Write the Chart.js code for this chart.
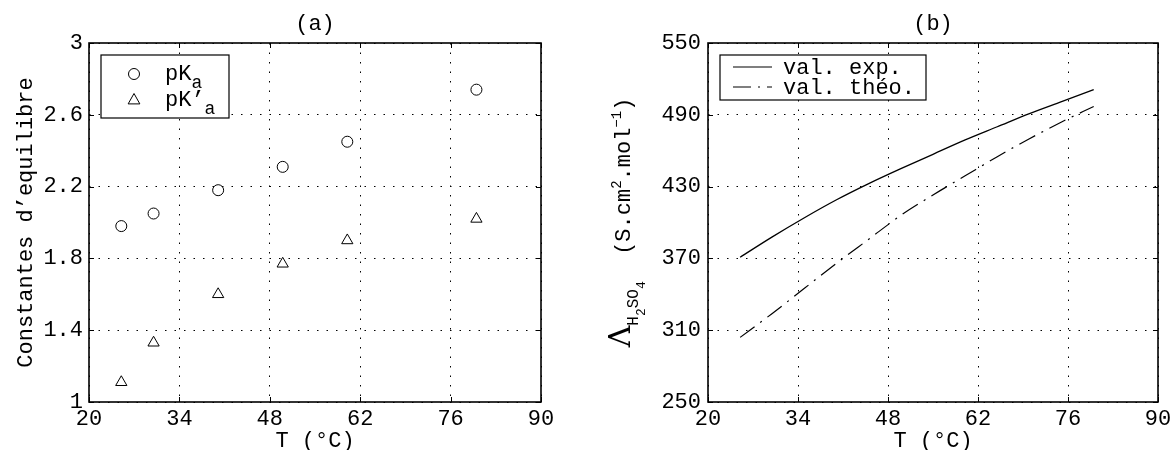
<!DOCTYPE html>
<html><head><meta charset="utf-8">
<script src="https://cdn.jsdelivr.net/npm/chart.js@4/dist/chart.umd.min.js"></script>
<style>
html,body{margin:0;padding:0;background:#fff;overflow:hidden;width:1173px;height:450px;position:relative}
#a{position:absolute;left:0;top:0;width:590px;height:450px}
#b{position:absolute;left:590px;top:0;width:600px;height:450px}
</style></head><body>
<div id="a"><canvas id="ca"></canvas></div>
<div id="b"><canvas id="cb"></canvas></div>
<script>
// ---- data ----
const temps = [25, 30, 40, 50, 60, 80];
const pKa = [1.98, 2.05, 2.18, 2.31, 2.45, 2.74];
const pKa2 = [1.11, 1.33, 1.60, 1.77, 1.90, 2.02];
const xTicks = [20, 34, 48, 62, 76, 90];
const yTicksA = [1, 1.4, 1.8, 2.2, 2.6, 3];
const yTicksB = [250, 310, 370, 430, 490, 550];
const tempsB = [25, 30, 35, 40, 45, 50, 55, 60, 65, 70, 75, 80];
const lambdaExp = [371, 388, 404, 419, 432.5, 445, 457, 469, 480, 491, 501, 511];
const lambdaTheo = [304, 324, 345, 366, 386, 406, 423, 439, 455, 470, 484, 497];

const FONT = "'Liberation Mono', 'DejaVu Sans Mono', monospace";
const FS = 22;
const DASHDOT = [18, 7, 2, 7];

function xScale(){
  return {type:'linear', min:20, max:90,
    afterBuildTicks:s=>{s.ticks = xTicks.map(v=>({value:v}));},
    afterFit:s=>{s.height = 48;},
    ticks:{color:'#000', font:{family:FONT,size:FS}, padding:4, maxRotation:0, autoSkip:false, callback:v=>String(v)},
    grid:{color:'#000', lineWidth:1, drawTicks:false},
    border:{display:false, dash:[1.5,8]}
  };
}
function yScale(min,max,ticks,w,pad){
  return {type:'linear', min:min, max:max,
    afterBuildTicks:s=>{s.ticks = ticks.map(v=>({value:v}));},
    afterFit:s=>{s.width = w;},
    ticks:{color:'#000', font:{family:FONT,size:FS}, padding:pad, autoSkip:false, callback:v=>String(v)},
    grid:{color:'#000', lineWidth:1, drawTicks:false},
    border:{display:false, dash:[1.5,8]}
  };
}

const frame = {
  id:'frame',
  afterDraw(chart){
    const {ctx, chartArea:a} = chart; const x = chart.scales.x, y = chart.scales.y;
    ctx.save();
    ctx.strokeStyle='#000'; ctx.lineWidth=1;
    ctx.beginPath();
    x.ticks.forEach(t=>{const p=Math.round(x.getPixelForValue(t.value))+0.5; ctx.moveTo(p,a.bottom); ctx.lineTo(p,a.bottom-5); ctx.moveTo(p,a.top); ctx.lineTo(p,a.top+5);});
    y.ticks.forEach(t=>{const p=Math.round(y.getPixelForValue(t.value))+0.5; ctx.moveTo(a.left,p); ctx.lineTo(a.left+5,p); ctx.moveTo(a.right,p); ctx.lineTo(a.right-5,p);});
    ctx.stroke();
    ctx.lineWidth=1.6;
    ctx.strokeRect(a.left, a.top, a.right-a.left, a.bottom-a.top);
    ctx.restore();
  }
};

function drawTitleAndX(chart, title){
  const {ctx, chartArea:a} = chart;
  ctx.save();
  ctx.fillStyle='#000';
  ctx.font = FS+'px '+FONT;
  ctx.textAlign='center'; ctx.textBaseline='middle';
  const cx=(a.left+a.right)/2;
  ctx.fillText(title, cx, 24);
  ctx.fillText('T (°C)', cx, 441);
  ctx.restore();
}

// ---------- chart (a) ----------
const decoA = {
  id:'decoA',
  afterDraw(chart){
    const {ctx, chartArea:a} = chart;
    drawTitleAndX(chart,'(a)');
    ctx.save();
    ctx.translate(26,(a.top+a.bottom)/2);
    ctx.rotate(-Math.PI/2);
    ctx.font = FS+'px '+FONT; ctx.fillStyle='#000';
    ctx.textAlign='center'; ctx.textBaseline='middle';
    ctx.fillText("Constantes d’equilibre",0,0);
    ctx.restore();
    // legend
    ctx.save();
    const bx=a.left+12, by=a.top+12, bw=128, bh=63;
    ctx.fillStyle='#fff'; ctx.fillRect(bx,by,bw,bh);
    ctx.strokeStyle='#000'; ctx.lineWidth=1.2; ctx.strokeRect(bx,by,bw,bh);
    const rows=[by+19, by+45];
    ctx.lineWidth=1;
    ctx.beginPath(); ctx.arc(bx+33, rows[0], 5.5, 0, Math.PI*2); ctx.stroke();
    const r=6.5, tx=bx+33, ty=rows[1];
    ctx.beginPath(); ctx.moveTo(tx, ty-r); ctx.lineTo(tx+r*0.9, ty+r*0.6); ctx.lineTo(tx-r*0.9, ty+r*0.6); ctx.closePath(); ctx.stroke();
    ctx.fillStyle='#000'; ctx.textAlign='left'; ctx.textBaseline='alphabetic';
    const t0=bx+64;
    ctx.font=FS+'px '+FONT;
    ctx.fillText('pK', t0, rows[0]+6);
    let w=ctx.measureText('pK').width;
    ctx.font='18px '+FONT; ctx.fillText('a', t0+w, rows[0]+14);
    ctx.font=FS+'px '+FONT;
    ctx.fillText('pK’', t0, rows[1]+6);
    w=ctx.measureText('pK’').width;
    ctx.font='18px '+FONT; ctx.fillText('a', t0+w, rows[1]+14);
    ctx.restore();
  }
};

new Chart(document.getElementById('ca'), {
  type:'scatter',
  data:{datasets:[
    {label:'pKa', data:temps.map((t,i)=>({x:t,y:pKa[i]})), pointStyle:'circle', pointRadius:5.5, pointHoverRadius:5.5, borderColor:'#000', backgroundColor:'rgba(0,0,0,0)', borderWidth:1},
    {label:"pK'a", data:temps.map((t,i)=>({x:t,y:pKa2[i]})), pointStyle:'triangle', pointRadius:6.5, pointHoverRadius:6.5, borderColor:'#000', backgroundColor:'rgba(0,0,0,0)', borderWidth:1}
  ]},
  options:{
    responsive:true, maintainAspectRatio:false, animation:false, devicePixelRatio:1,
    layout:{padding:{top:43, right:49, left:0, bottom:0}},
    plugins:{legend:{display:false}, title:{display:false}, tooltip:{enabled:false}},
    scales:{x:xScale(), y:yScale(1,3,yTicksA,89,6)}
  },
  plugins:[frame, decoA]
});

// ---------- chart (b) ----------
const decoB = {
  id:'decoB',
  afterDraw(chart){
    const {ctx, chartArea:a} = chart;
    drawTitleAndX(chart,'(b)');
    ctx.save();
    ctx.fillStyle='#000';
    ctx.translate(40, (a.top+a.bottom)/2);
    ctx.rotate(-Math.PI/2);
    ctx.textBaseline='alphabetic'; ctx.textAlign='left';
    const parts=[
      {t:'Λ', f:30, dy:0, ff:"'DejaVu Serif', serif"},
      {t:'H', f:16, dy:8},
      {t:'2', f:13, dy:15},
      {t:'SO', f:16, dy:8},
      {t:'4', f:13, dy:15},
      {t:'  (S.cm', f:FS, dy:0},
      {t:'2', f:14, dy:-9},
      {t:'.mol', f:FS, dy:0},
      {t:'−1', f:14, dy:-9},
      {t:')', f:FS, dy:0}
    ];
    let total=0;
    parts.forEach(p=>{ctx.font=p.f+'px '+(p.ff||FONT); p.w=ctx.measureText(p.t).width; total+=p.w;});
    let u=-total/2;
    parts.forEach(p=>{ctx.font=p.f+'px '+(p.ff||FONT); ctx.fillText(p.t,u,p.dy); u+=p.w;});
    ctx.restore();
    // legend
    ctx.save();
    const bx=a.left+12, by=a.top+12, bw=206, bh=45;
    ctx.fillStyle='#fff'; ctx.fillRect(bx,by,bw,bh);
    ctx.strokeStyle='#000'; ctx.lineWidth=1.2; ctx.strokeRect(bx,by,bw,bh);
    const rows=[by+12, by+32];
    ctx.lineWidth=1.2;
    ctx.beginPath(); ctx.moveTo(bx+13,rows[0]); ctx.lineTo(bx+52,rows[0]); ctx.stroke();
    ctx.setLineDash(DASHDOT);
    ctx.beginPath(); ctx.moveTo(bx+13,rows[1]); ctx.lineTo(bx+52,rows[1]); ctx.stroke();
    ctx.setLineDash([]);
    ctx.fillStyle='#000'; ctx.font=FS+'px '+FONT; ctx.textAlign='left'; ctx.textBaseline='middle';
    ctx.fillText('val. exp.', bx+63, rows[0]+1);
    ctx.fillText('val. théo.', bx+63, rows[1]+1);
    ctx.restore();
  }
};

new Chart(document.getElementById('cb'), {
  type:'line',
  data:{datasets:[
    {label:'val. exp.', data:tempsB.map((t,i)=>({x:t,y:lambdaExp[i]})), borderColor:'#000', borderWidth:1.3, pointRadius:0, fill:false, cubicInterpolationMode:'monotone'},
    {label:'val. théo.', data:tempsB.map((t,i)=>({x:t,y:lambdaTheo[i]})), borderColor:'#000', borderWidth:1.2, borderDash:DASHDOT, pointRadius:0, fill:false, cubicInterpolationMode:'monotone'}
  ]},
  options:{
    responsive:true, maintainAspectRatio:false, animation:false, devicePixelRatio:1,
    layout:{padding:{top:43, right:32, left:0, bottom:0}},
    plugins:{legend:{display:false}, title:{display:false}, tooltip:{enabled:false}},
    scales:{x:xScale(), y:yScale(250,550,yTicksB,118,7)}
  },
  plugins:[frame, decoB]
});
</script>
</body></html>
